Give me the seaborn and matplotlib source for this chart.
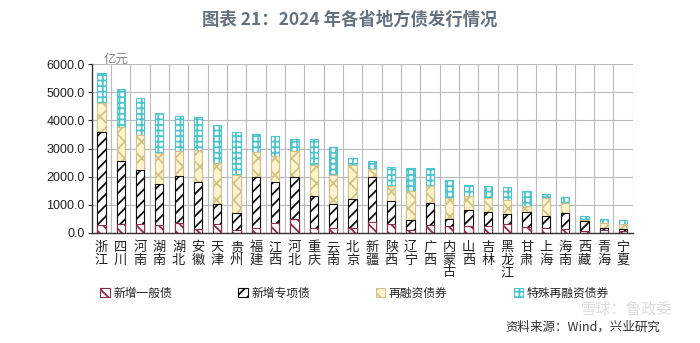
import numpy as np
import pandas as pd
import matplotlib
matplotlib.use("Agg")
import matplotlib.pyplot as plt
import seaborn as sns

provinces = ["浙江", "四川", "河南", "湖南", "湖北", "安徽", "天津", "贵州", "福建", "江西",
             "河北", "重庆", "云南", "北京", "新疆", "陕西", "辽宁", "广西", "内蒙古", "山西",
             "吉林", "黑龙江", "甘肃", "上海", "海南", "西藏", "青海", "宁夏"]
general_new = [270, 330, 320, 270, 340, 130, 300, 120, 160, 360,
               480, 180, 170, 170, 380, 300, 120, 280, 230, 250,
               260, 300, 200, 180, 150, 60, 110, 70]
special_new = [3325, 2220, 1930, 1460, 1700, 1685, 745, 570, 1835, 1455,
               1515, 1135, 850, 1050, 1615, 840, 355, 785, 280, 570,
               490, 370, 550, 415, 565, 370, 80, 85]
refinancing = [1030, 1200, 1225, 1095, 875, 1150, 1445, 1360, 885, 915,
               920, 1115, 1030, 1190, 260, 520, 1020, 620, 725, 475,
               475, 495, 200, 630, 355, 20, 167, 155]
special_refinancing = [1045, 1360, 1305, 1455, 1245, 1160, 1340, 1545, 630, 710,
                       440, 925, 1010, 260, 305, 690, 830, 605, 640, 425,
                       440, 455, 550, 155, 195, 145, 133, 165]
series_names = ["新增一般债", "新增专项债", "再融资债券", "特殊再融资债券"]
y_ticks = [0, 1000, 2000, 3000, 4000, 5000, 6000]

sns.set_theme(style="white")
plt.rcParams["font.family"] = ["Noto Sans CJK SC", "DejaVu Sans"]
plt.rcParams["hatch.linewidth"] = 1.3

df = pd.DataFrame({"province": provinces,
                   "g": general_new, "s": special_new,
                   "r": refinancing, "sr": special_refinancing})
df["c1"] = df["g"]
df["c2"] = df["c1"] + df["s"]
df["c3"] = df["c2"] + df["r"]
df["c4"] = df["c3"] + df["sr"]

fig = plt.figure(figsize=(7.0, 3.43), dpi=100)
ax = fig.add_axes([0.131, 0.321, 0.773, 0.492])

styles = [
    ("c4", "white", "#4FC3CC", "+++", series_names[3]),
    ("c3", "#FFF4CC", "#D2C28A", "xx", series_names[2]),
    ("c2", "white", "#111111", "///", series_names[1]),
    ("c1", "white", "#8B2E4E", "\\\\\\", series_names[0]),
]
handles = {}
for col, fc, ec, hatch, name in styles:
    n_before = len(ax.patches)
    sns.barplot(data=df, x="province", y=col, ax=ax, color=fc, width=0.43,
                edgecolor=ec, linewidth=0.8, saturation=1, errorbar=None)
    for p in ax.patches[n_before:]:
        p.set_facecolor(fc)
        p.set_hatch(hatch)
        p.set_edgecolor(ec)
    handles[name] = ax.patches[n_before]

ax.set_xlim(-0.5, len(provinces) - 0.5)
ax.set_ylim(0, 6000)
ax.set_yticks(y_ticks)
ax.set_yticklabels([f"{v:.1f}" for v in y_ticks], fontsize=9,
                   family=["Liberation Sans", "DejaVu Sans"], color="#222222")
ax.set_xticks(range(len(provinces)))
ax.set_xticklabels(["\n".join(p) for p in provinces], fontsize=9.5,
                   linespacing=0.95, color="#222222", va="top")
ax.set_xticks(np.arange(-0.5, len(provinces)), minor=True)
ax.tick_params(axis="x", which="major", length=0, pad=6)
ax.tick_params(axis="x", which="minor", length=3, direction="out", color="#333333", width=0.8)
ax.tick_params(axis="y", length=3, direction="out", color="#333333", width=0.8, pad=2, left=True)
ax.set_xlabel("")
ax.set_ylabel("")
ax.grid(axis="y", which="major", color="#BBBBBB", linewidth=0.8)
ax.grid(axis="x", which="minor", color="#BBBBBB", linewidth=0.8)
ax.set_axisbelow(True)
for s in ["top", "right"]:
    ax.spines[s].set_visible(False)
for s in ["left", "bottom"]:
    ax.spines[s].set_color("#333333")
    ax.spines[s].set_linewidth(1.0)

fig.text(0.5, 0.942, "图表 21：2024 年各省地方债发行情况", ha="center", va="center",
         fontsize=12.5, fontweight="bold", color="#65717E")
fig.text(0.148, 0.826, "亿元", ha="left", va="center", fontsize=9, color="#888888")

order = series_names
leg = fig.legend([handles[n] for n in order], order, loc="center left",
                 bbox_to_anchor=(0.128, 0.145), ncol=4, frameon=False,
                 fontsize=8.5, handlelength=0.8, handleheight=0.8,
                 handletextpad=0.3, columnspacing=5.6)
fig.text(0.943, 0.046, "资料来源：Wind，兴业研究", ha="right", va="center",
         fontsize=9, color="#333333")
fig.text(0.96, 0.1, "雪球：鲁政委", ha="right", va="center",
         fontsize=11, color="#BBBBBB", alpha=0.5)

fig.savefig("out.png", dpi=100)
